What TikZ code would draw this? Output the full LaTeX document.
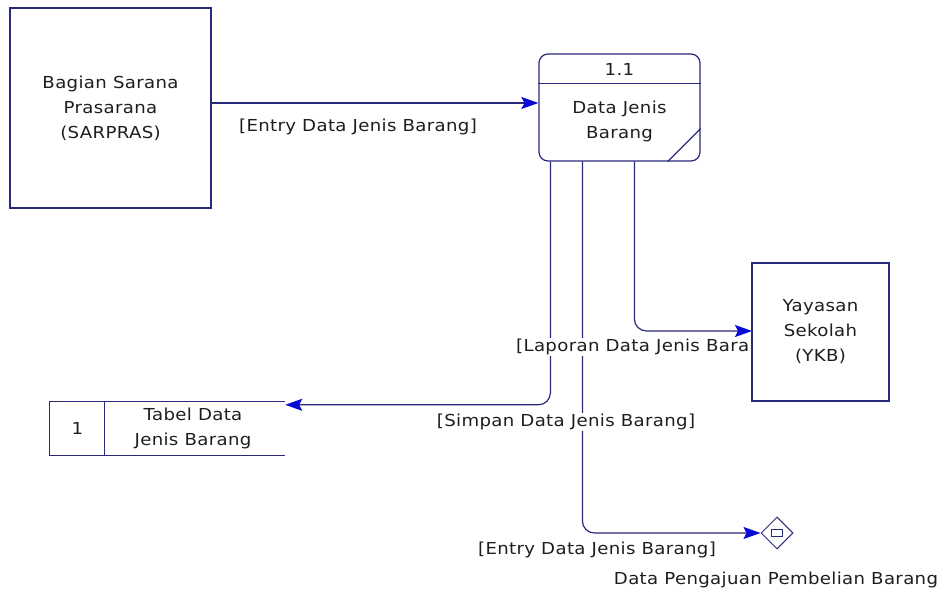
\documentclass[tikz,border=0pt]{standalone}
\usepackage{fontspec}
\setmainfont[LetterSpace=2,FakeStretch=1.1]{DejaVu Sans}
\usepackage{tikz}
\usetikzlibrary{arrows.meta,calc,shapes.geometric}
\definecolor{dfdline}{RGB}{42,42,125}
\definecolor{dfdtip}{RGB}{10,10,215}
\definecolor{dfdtext}{RGB}{30,30,30}

\begin{document}
\begin{tikzpicture}[x=1pt,y=-1pt,
    >={Stealth[length=17pt,width=12pt,inset=3pt,color=dfdtip]},
    font=\fontsize{16.5}{25}\selectfont,
    every node/.style={text=dfdtext},
    entity/.style={draw=dfdline,fill=white,line width=1.2pt,align=center,inner sep=0pt},
    flow/.style={->,draw=dfdline,line width=1.2pt,rounded corners=12pt},
    flowlabel/.style={fill=white,inner sep=1pt},
    outline/.style={draw=dfdline,line width=1.2pt}]
%    \tikzstyle{every node}=[draw=red]
    \useasboundingbox (0,0) rectangle (948,593);

    % external entity and process
    \node[entity,minimum width=201pt,minimum height=200pt] (sarpras) at (110.5,108) {Bagian Sarana\\Prasarana\\(SARPRAS)};
    \node[outline,fill=white,rounded corners=9pt,minimum width=161pt,minimum height=107pt] (proc) at (619.5,107.5) {};
    \node                (procid)   at (619.5,69)  {1.1};
    \node[align=center]  (procname) at (619.5,121) {Data Jenis\\Barang};
    \draw[outline] ($(proc.north west)+(0,30)$) -- ($(proc.north east)+(0,30)$);
    \draw[outline] ($(proc.south east)+(-33,0)$) -- ($(proc.south east)+(0,-33)$);

    % data store
    \node[inner sep=0pt,minimum width=235pt,minimum height=53pt] (store) at (167.5,428.5) {};
    \draw[outline] (store.north east) -- (store.north west) -- (store.south west) -- (store.south east);
    \draw[outline] ($(store.north west)+(55,0)$) -- ($(store.south west)+(55,0)$);
    \node                (storeid)   at (77.5,428.5) {1};
    \node[align=center]  (storename) at (193,428)    {Tabel Data\\Jenis Barang};

    % off-page connector
    \node[outline,line width=1pt,diamond,inner sep=0pt,minimum width=32pt,minimum height=32pt] (pengajuan) at (777,533) {};
    \node[outline,line width=1pt,inner sep=0pt,minimum width=11pt,minimum height=7pt] (pengajuanbox) at (pengajuan.center) {};
    \node (pengajuanname) at (776,580) {Data Pengajuan Pembelian Barang};

    % data flows
    \coordinate (ykbin) at (752,331);
    \draw[flow] ([yshift=5pt]sarpras.east) -- ([yshift=5pt]sarpras.east -| proc.west);
    \draw[flow] ($(proc.south west)+(12,0)$) |- ([yshift=-3pt]store.north east);
    \draw[flow] ($(proc.south west)+(96,0)$) |- (ykbin);
    \draw[flow] ($(proc.south west)+(44,0)$) |- (pengajuan.west);

    \node[flowlabel]             (lblentry)   at (358,127) {[Entry Data Jenis Barang]};
    \node[flowlabel,anchor=west] (lbllaporan) at (515,347) {[Laporan Data Jenis Barang]};
    \node[flowlabel]             (lblsimpan)  at (566,422) {[Simpan Data Jenis Barang]};
    \node[flowlabel]             (lblentry2)  at (597,550) {[Entry Data Jenis Barang]};

    \node[entity,minimum width=137pt,minimum height=138pt] (ykb) at (820.5,332) {Yayasan\\Sekolah\\(YKB)};
\end{tikzpicture}
\end{document}
